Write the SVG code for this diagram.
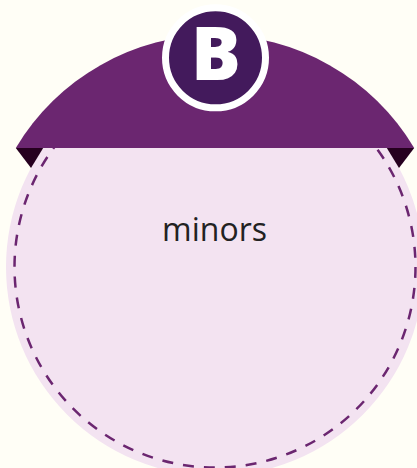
<svg xmlns="http://www.w3.org/2000/svg" width="417" height="468" viewBox="0 0 417 468">
  <style>
    .bg { fill: #fffef6; }
    .disc { fill: #f3e3f1; }
    .ring { fill: none; stroke: #6b2670; stroke-width: 2.5; stroke-dasharray: 11 10; }
    .cap { fill: #6b2670; }
    .fold { fill: #26001f; }
    .badge { fill: #431a5c; stroke: #ffffff; stroke-width: 7; }
    .badge-text { font-family: "Open Sans", "Liberation Sans", sans-serif; font-weight: 800; font-size: 74px; fill: #ffffff; text-anchor: middle; }
    .label { font-family: "Open Sans", "Liberation Sans", sans-serif; font-size: 32px; fill: #222222; text-anchor: middle; }
  </style>
  <rect class="bg" x="0" y="0" width="417" height="468"/>
  <g id="node-minors">
    <circle class="disc" cx="215" cy="267" r="209"/>
    <circle class="ring" cx="215" cy="267" r="200.5"/>
    <path class="cap" d="M15.8 148 A232 232 0 0 1 414.2 148 Z"/>
    <polygon class="fold" points="15.8,148 43.2,148 31,168"/>
    <polygon class="fold" points="386.8,148 414.2,148 399,168"/>
    <text class="label" x="214.5" y="241">minors</text>
  </g>
  <g id="badge-B">
    <circle class="badge" cx="215.5" cy="57.8" r="50"/>
    <text class="badge-text" x="216" y="80">B</text>
  </g>
  <g id="connectors"></g>
</svg>
